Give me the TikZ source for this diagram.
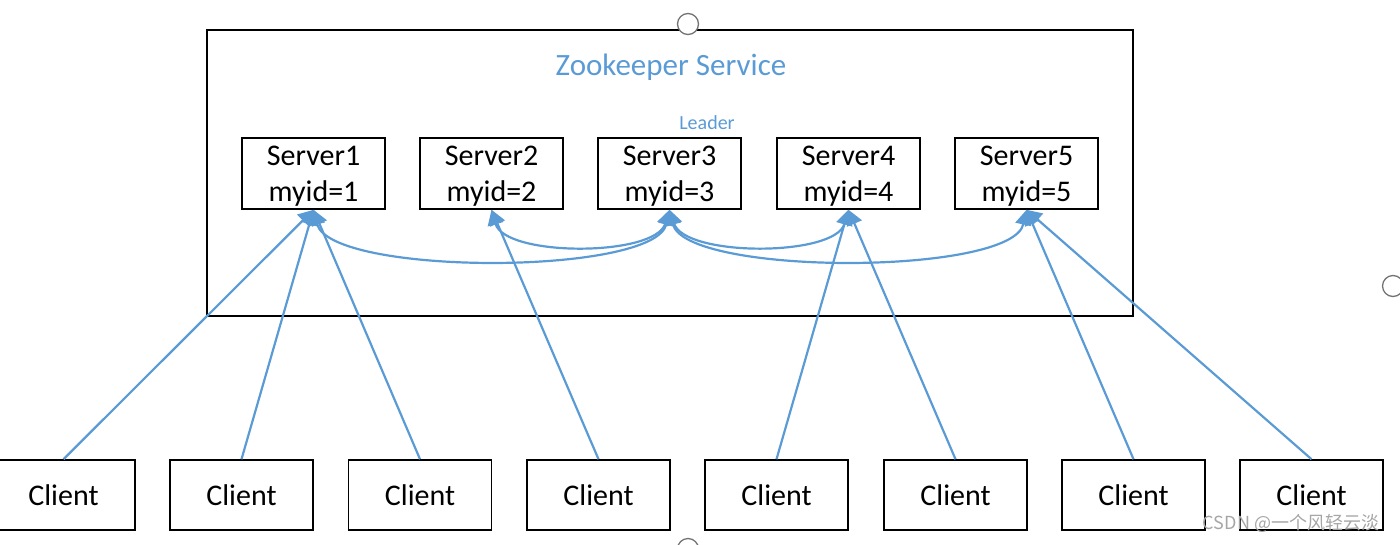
\documentclass[tikz,border=0pt]{standalone}
\usepackage{fontspec}
\setmainfont{Carlito}
\newfontfamily\cjkfont{Noto Sans CJK SC}
\usetikzlibrary{arrows.meta}
\definecolor{zkblue}{HTML}{5B9BD5}
\begin{document}
\begin{tikzpicture}[x=1pt,y=-1pt,
  srvbox/.style={draw=black,line width=1.6pt,minimum width=143pt,minimum height=71pt,inner sep=0pt},
  srvtext/.style={yshift=-3pt,align=center,inner sep=0pt,font=\fontsize{30}{36}\selectfont},
  clibox/.style={draw=black,line width=1.6pt,minimum width=143pt,minimum height=70pt,inner sep=0pt,font=\fontsize{30}{36}\selectfont},
  conn/.style={draw=zkblue,line width=2.2pt,-{Triangle[length=15pt,width=16pt]}},
  bconn/.style={draw=zkblue,line width=2.2pt,{Triangle[length=15pt,width=16pt]}-{Triangle[length=15pt,width=16pt]}},
  handle/.style={circle,draw=black!55,fill=white,line width=1.3pt,minimum size=21pt,inner sep=0pt}]
\useasboundingbox (0,0) rectangle (1400,544);
% service box
\draw[line width=1.6pt] (207,30) rectangle (1133,316);
\node[text=zkblue,font=\fontsize{31}{36}\selectfont] (title) at (671,67) {Zookeeper Service};
\node[text=zkblue,font=\fontsize{20}{24}\selectfont] (leader) at (707,123) {Leader};
% servers
\node[srvbox,label={[srvtext]center:Server1\\myid=1}] (s1) at (313.5,173.5) {};
\node[srvbox,label={[srvtext]center:Server2\\myid=2}] (s2) at (491.5,173.5) {};
\node[srvbox,label={[srvtext]center:Server3\\myid=3}] (s3) at (669.5,173.5) {};
\node[srvbox,label={[srvtext]center:Server4\\myid=4}] (s4) at (848.5,173.5) {};
\node[srvbox,label={[srvtext]center:Server5\\myid=5}] (s5) at (1026.5,173.5) {};
% clients
\node[clibox] (c1) at (63.5,495) {Client};
\node[clibox] (c2) at (241.5,495) {Client};
\node[clibox] (c3) at (420,495) {Client};
\node[clibox] (c4) at (598.5,495) {Client};
\node[clibox] (c5) at (776.5,495) {Client};
\node[clibox] (c6) at (955.5,495) {Client};
\node[clibox] (c7) at (1133.5,495) {Client};
\node[clibox] (c8) at (1311.5,495) {Client};
% client connectors
\draw[conn] (c1.north) -- (s1.south);
\draw[conn] (c2.north) -- (s1.south);
\draw[conn] (c3.north) -- (s1.south);
\draw[conn] (c4.north) -- (s2.south);
\draw[conn] (c5.north) -- (s4.south);
\draw[conn] (c6.north) -- (s4.south);
\draw[conn] (c7.north) -- (s5.south);
\draw[conn] (c8.north) -- (s5.south);
% server interconnections
\draw[bconn] (s1.south) .. controls (330,276) and (655,276) .. (s3.south);
\draw[bconn] (s2.south) .. controls (505,257) and (655,257) .. (s3.south);
\draw[bconn] (s3.south) .. controls (685,257) and (835,257) .. (s4.south);
\draw[bconn] (s3.south) .. controls (685,276) and (1012,276) .. (s5.south);
% selection handles
\node[handle] (h1) at (688,24) {};
\node[handle] (h2) at (1393,286) {};
\node[handle] (h3) at (688,549) {};
% watermark
\node[text=black!35,font=\cjkfont\fontsize{18}{20}\selectfont] (wm) at (1291,523) {CSDN @一个风轻云淡};
\end{tikzpicture}
\end{document}
